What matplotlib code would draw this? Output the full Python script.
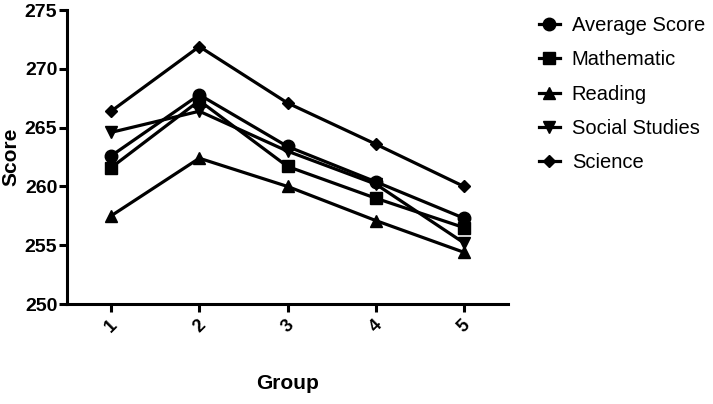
import matplotlib
matplotlib.use("Agg")
import matplotlib.pyplot as plt

plt.rcParams['font.family'] = ['Liberation Sans', 'DejaVu Sans']

groups = [1, 2, 3, 4, 5]
average_score = [262.6, 267.8, 263.4, 260.4, 257.3]
mathematic = [261.6, 267.3, 261.7, 259.0, 256.5]
reading = [257.5, 262.4, 260.0, 257.1, 254.4]
social_studies = [264.6, 266.4, 263.0, 260.2, 255.2]
science = [266.4, 271.9, 267.1, 263.6, 260.0]

series = [
    ("Average Score", average_score, "o", 9),
    ("Mathematic", mathematic, "s", 8.5),
    ("Reading", reading, "^", 9),
    ("Social Studies", social_studies, "v", 9),
    ("Science", science, "D", 6.5),
]

fig = plt.figure(figsize=(7.13, 4.04), dpi=100)
ax = fig.add_axes([0.094, 0.2475, 0.6185, 0.7275])

for name, vals, mk, ms in series:
    ax.plot(groups, vals, color="black", lw=2.3, marker=mk, ms=ms,
            label=name, clip_on=False)

ax.set_xlim(0.5, 5.5)
ax.set_ylim(250, 275)
ax.set_xticks(groups)
ax.set_yticks(range(250, 276, 5))
ax.set_xticklabels([str(g) for g in groups], rotation=45,
                   fontweight="bold", fontsize=13)
for lab in ax.get_yticklabels():
    lab.set_fontweight("bold")
    lab.set_fontsize(14)

for s in ["top", "right"]:
    ax.spines[s].set_visible(False)
for s in ["left", "bottom"]:
    ax.spines[s].set_linewidth(2.2)
ax.tick_params(direction="out", length=6, width=2.2, pad=1)
ax.tick_params(axis="x", pad=3)

ax.set_xlabel("Group", fontweight="bold", fontsize=15, labelpad=28)
ax.set_ylabel("Score", fontweight="bold", fontsize=15, labelpad=3)

fig.legend(loc="upper left", bbox_to_anchor=(0.73, 1.005), frameon=False,
           fontsize=14.5, handlelength=1.05, labelspacing=0.76,
           handletextpad=0.6)

fig.savefig("out.png", dpi=100)
